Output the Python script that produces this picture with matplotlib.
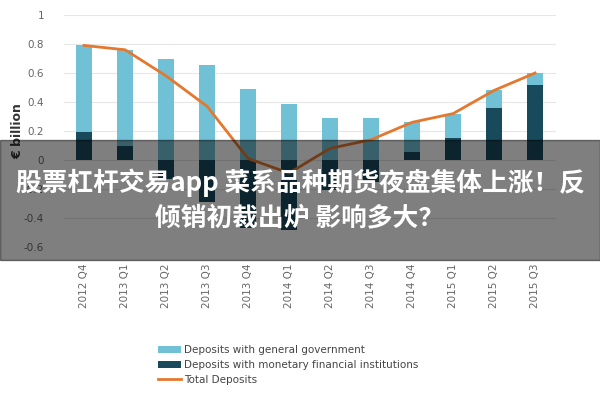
import numpy as np
import matplotlib
matplotlib.use("Agg")
import matplotlib.pyplot as plt

categories = ["2012 Q4", "2013 Q1", "2013 Q2", "2013 Q3", "2013 Q4", "2014 Q1",
              "2014 Q2", "2014 Q3", "2014 Q4", "2015 Q1", "2015 Q2", "2015 Q3"]
gov = [0.60, 0.66, 0.70, 0.655, 0.49, 0.385, 0.29, 0.29, 0.205, 0.17, 0.12, 0.08]
mfi = [0.19, 0.10, -0.13, -0.29, -0.47, -0.48, -0.21, -0.15, 0.055, 0.15, 0.36, 0.52]
total = [0.79, 0.76, 0.58, 0.37, 0.01, -0.09, 0.08, 0.14, 0.26, 0.32, 0.48, 0.60]
yticks = [-0.6, -0.4, -0.2, 0, 0.2, 0.4, 0.6, 0.8, 1]
ytick_labels = ["-0.6", "-0.4", "-0.2", "0", "0.2", "0.4", "0.6", "0.8", "1"]
banner_lines = ["股票杠杆交易app 菜系品种期货夜盘集体上涨！反", "倾销初裁出炉 影响多大？"]

light = "#70c1d6"
dark = "#184a5c"
orange = "#e5782f"

fig = plt.figure(figsize=(6, 4), dpi=100)
ax = fig.add_axes([0.106, 0.3825, 0.82, 0.58])
x = np.arange(len(categories))
mfi_arr = np.array(mfi)
b_mfi = ax.bar(x, mfi, width=0.4, color=dark, zorder=2)
b_gov = ax.bar(x, gov, width=0.4, bottom=np.maximum(mfi_arr, 0), color=light, zorder=2)
ln, = ax.plot(x, total, color=orange, lw=2, zorder=3)

ax.set_xlim(-0.5, len(categories) - 0.5)
ax.set_ylim(-0.6, 1.0)
ax.set_yticks(yticks)
ax.set_yticklabels(ytick_labels)
ax.set_xticks(x)
ax.set_xticklabels(categories, rotation=90)
ax.grid(axis="y", color="#e6e6e6", lw=0.8, zorder=0)
for s in ax.spines.values():
    s.set_visible(False)
ax.tick_params(length=0, labelsize=7.5, colors="#666666")
ax.tick_params(axis="y", pad=14)
ax.tick_params(axis="x", pad=12)
ax.set_ylabel("€ billion", fontsize=9, fontweight="bold", color="#333333", labelpad=0)

leg = fig.legend([b_gov, b_mfi, ln],
                 ["Deposits with general government",
                  "Deposits with monetary financial institutions",
                  "Total Deposits"],
                 loc="upper left", bbox_to_anchor=(0.248, 0.16), frameon=False,
                 fontsize=7.5, handlelength=2.2, handletextpad=0.3, labelspacing=0.45,
                 bbox_transform=fig.transFigure)
for t in leg.get_texts():
    t.set_color("#444444")

# banner overlay
fig.patches.append(plt.Rectangle((0, 1 - 260 / 400), 1, 120 / 400, transform=fig.transFigure,
                                 color="black", alpha=0.5, zorder=10))
fig.text(0.5, 1 - 183 / 400, banner_lines[0], ha="center", va="center", color="white",
         fontsize=18.5, fontweight="bold", family=["Noto Sans CJK SC", "DejaVu Sans"], zorder=11)
fig.text(0.5, 1 - 218 / 400, banner_lines[1], ha="center", va="center", color="white",
         fontsize=18.5, fontweight="bold", family=["Noto Sans CJK SC", "DejaVu Sans"], zorder=11)

fig.savefig("out.png", dpi=100)
